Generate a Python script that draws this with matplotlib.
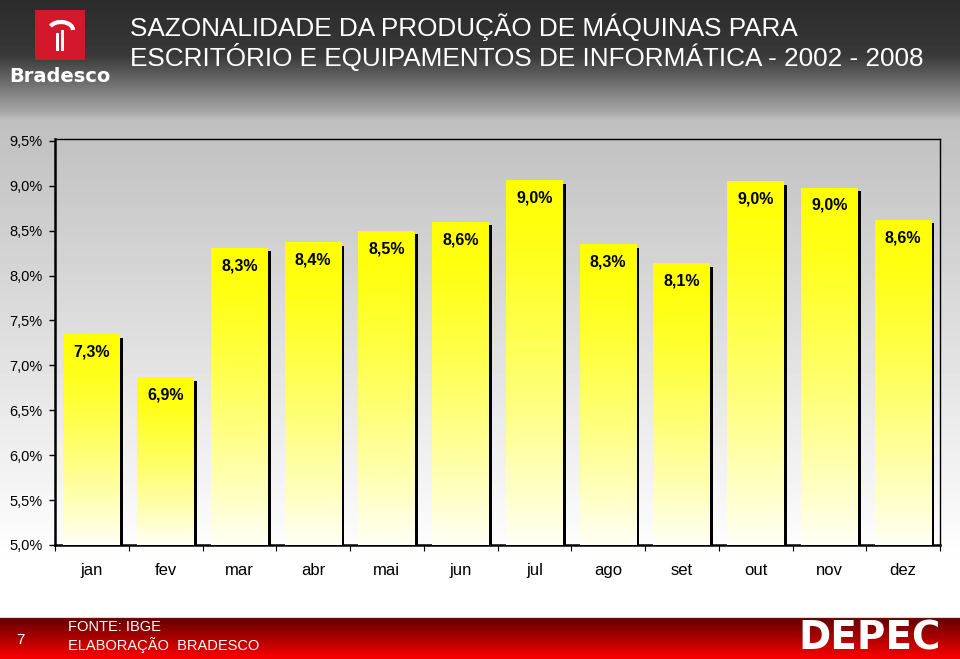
import numpy as np
import matplotlib
matplotlib.use("Agg")
import matplotlib.pyplot as plt
from matplotlib import patches

months = ["jan", "fev", "mar", "abr", "mai", "jun", "jul", "ago", "set", "out", "nov", "dez"]
values = [7.35, 6.87, 8.31, 8.37, 8.50, 8.60, 9.06, 8.35, 8.14, 9.05, 8.98, 8.62]
labels = ["7,3%", "6,9%", "8,3%", "8,4%", "8,5%", "8,6%", "9,0%", "8,3%", "8,1%", "9,0%", "9,0%", "8,6%"]
yticks = [5.0, 5.5, 6.0, 6.5, 7.0, 7.5, 8.0, 8.5, 9.0, 9.5]

title = "SAZONALIDADE DA PRODUÇÃO DE MÁQUINAS PARA\nESCRITÓRIO E EQUIPAMENTOS DE INFORMÁTICA - 2002 - 2008"

W, H = 960, 659
fig = plt.figure(figsize=(W / 100, H / 100), dpi=100)

# background gradient over the whole slide
bg = fig.add_axes([0, 0, 1, 1], zorder=-10)
rows = np.arange(H)
gray = np.interp(rows, [0, 55, 112, 120, 330, 560, 659],
                 [0.17, 0.22, 0.66, 0.75, 0.87, 1.0, 1.0])
bg.imshow(np.repeat(gray[:, None], 2, axis=1), cmap="gray", vmin=0, vmax=1,
          aspect="auto", extent=[0, W, H, 0])
bg.set_xlim(0, W)
bg.set_ylim(H, 0)
bg.axis("off")

# footer band
red = np.zeros((42, 2, 3))
t = np.linspace(0, 1, 42)
red[:, :, 0] = (0.38 + 0.6 * t)[:, None]
bg.imshow(red, aspect="auto", extent=[0, W, 659, 617], zorder=1)
bg.plot([0, W], [617, 617], color="#f0d0d0", lw=0.8, zorder=2)
bg.text(20, 640, "7", color="white", fontsize=11, va="center", ha="center",
        family="Liberation Sans", zorder=3)
bg.text(68, 627, "FONTE: IBGE", color="white", fontsize=10.5, va="center",
        family="Liberation Sans", zorder=3)
bg.text(68, 645, "ELABORAÇÃO  BRADESCO", color="white", fontsize=10.5, va="center",
        family="Liberation Sans", zorder=3)
bg.text(870, 638, "DEPEC", color="white", fontsize=28, va="center", ha="center",
        family="DejaVu Sans", weight="heavy", zorder=3)

# Bradesco logo
bg.add_patch(patches.Rectangle((35, 10), 50, 50, facecolor="#d3182b", edgecolor="none", zorder=2))
bg.add_patch(patches.Arc((61, 30), 24, 16, theta1=200, theta2=360, color="white", lw=3, zorder=3))
bg.add_patch(patches.Rectangle((56, 33), 3, 18, facecolor="white", edgecolor="none", zorder=3))
bg.add_patch(patches.Rectangle((61, 30), 3, 21, facecolor="white", edgecolor="none", zorder=3))
bg.text(60, 77, "Bradesco", color="white", fontsize=14, weight="bold", ha="center", va="center",
        family="DejaVu Sans", zorder=3)

# title
bg.text(130, 42, title, color="white", fontsize=18.8, va="center", ha="left",
        family="Liberation Sans", linespacing=1.08, zorder=3)

# chart
ax = fig.add_axes([55 / W, 1 - 545 / H, 885 / W, 406 / H])
ax.patch.set_alpha(0)
x = np.arange(len(months))
bw = 0.77
ax.bar(x + 0.04, np.array(values) - 5.0 - 0.04, bottom=5.0, width=bw, color="black", zorder=2)
bars = ax.bar(x, np.array(values) - 5.0, bottom=5.0, width=bw, color="none", zorder=3)

grad = np.zeros((100, 2, 3))
tt = np.linspace(0, 1, 100)[:, None]
grad[:, :, 0] = 1.0
grad[:, :, 1] = 1.0
grad[:, :, 2] = 0.96 * tt ** 1.3
for b in bars:
    x0, y0 = b.get_x(), b.get_y()
    im = ax.imshow(grad, aspect="auto", extent=[x0, x0 + b.get_width(), y0, y0 + b.get_height()],
                   origin="upper", zorder=3)
    im.set_clip_path(b)

for xi, v, lab in zip(x, values, labels):
    ax.text(xi, v - 0.2, lab, ha="center", va="center", fontsize=11.5, weight="bold",
            family="Liberation Sans", zorder=4)

ax.set_xlim(-0.5, len(months) - 0.5)
ax.set_ylim(5.0, 9.52)
ax.set_yticks(yticks)
ax.set_yticklabels([f"{v:.1f}%".replace(".", ",") for v in yticks], family="Liberation Sans",
                   fontsize=10.5)
ax.set_xticks(x)
ax.set_xticklabels(months, family="Liberation Sans", fontsize=12)
ax.tick_params(axis="x", length=0, pad=13)
ax.set_xticks(np.arange(-0.5, len(months)), minor=True)
ax.tick_params(axis="x", which="minor", length=4, direction="out", width=0.8)
ax.tick_params(axis="y", length=4, width=1, pad=5)
for side in ["left", "bottom"]:
    ax.spines[side].set_linewidth(1.8)
for side in ["top", "right"]:
    ax.spines[side].set_linewidth(1.0)

fig.savefig("out.png", dpi=100)
